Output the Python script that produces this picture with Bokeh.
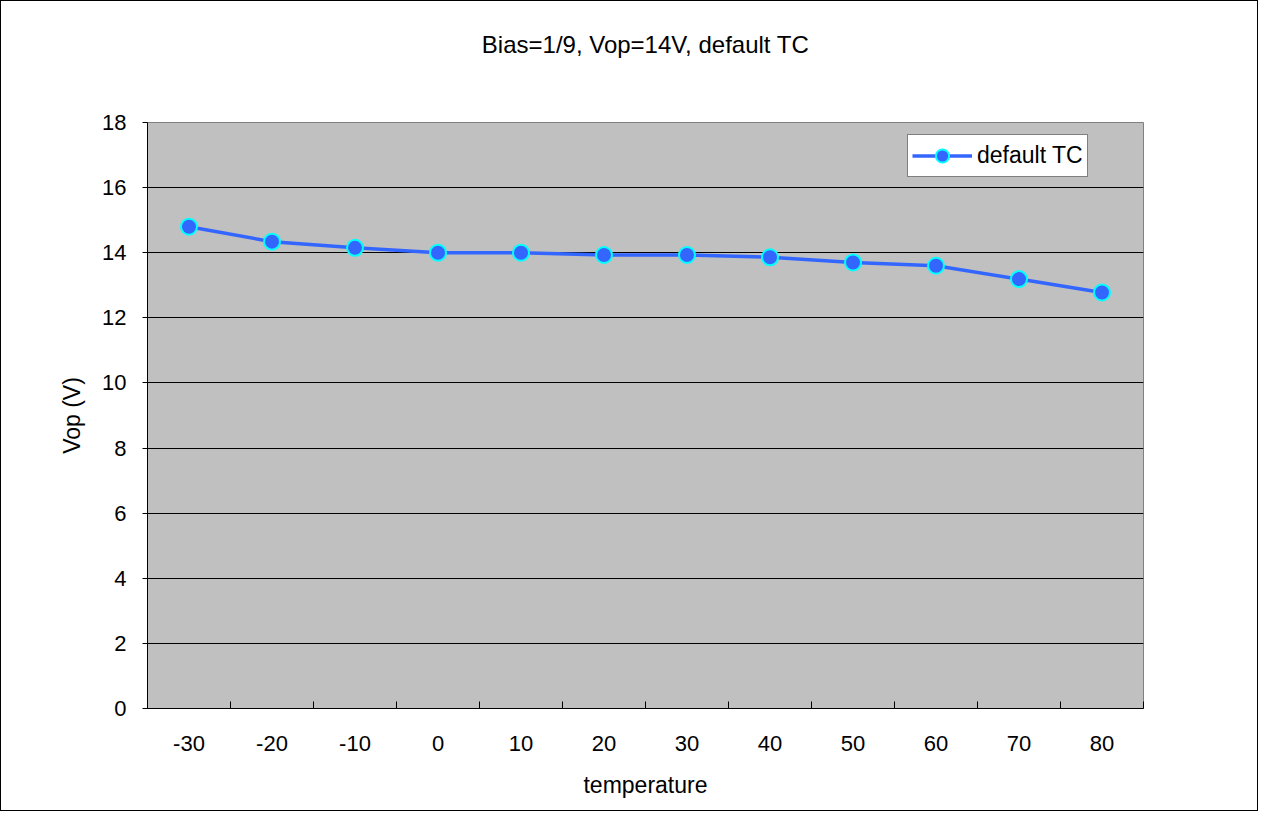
from bokeh.plotting import figure
from bokeh.models import (ColumnDataSource, FixedTicker, Range1d, Legend, LegendItem, Title)
from bokeh.embed import file_html
from bokeh.resources import INLINE

temps = ["-30", "-20", "-10", "0", "10", "20", "30", "40", "50", "60", "70", "80"]
vop = [14.80, 14.34, 14.15, 14.0, 14.0, 13.93, 13.93, 13.86, 13.70, 13.60, 13.19, 12.78]
y_ticks = [0, 2, 4, 6, 8, 10, 12, 14, 16, 18]
title_text = "Bias=1/9, Vop=14V, default TC"
series_name = "default TC"

FONT = "Liberation Sans"
TICK_FS = "22px"
TXT_FS = "23px"
idx = list(range(len(temps)))
src = ColumnDataSource(dict(x=idx, y=vop))

W, H = 1258, 811
BL, BT, BR, BB = 146, 121, 116, 104
FW, FH = W - BL - BR, H - BT - BB

p = figure(width=W, height=H, output_backend="svg", toolbar_location=None,
           x_range=Range1d(-0.5, len(temps) - 0.5), y_range=Range1d(0, 18),
           min_border_left=BL, min_border_right=BR, min_border_top=BT, min_border_bottom=BB)
p.styles = {"border": "1px solid #000000"}

p.background_fill_color = "#C0C0C0"
p.border_fill_color = "white"
p.outline_line_color = "#808080"
p.outline_line_width = 1

# spacer (nearest the frame), then the visible title above it
spacer = Title(text=" ", text_font=FONT, text_font_size="10px", standoff=47)
p.add_layout(spacer, "above")
main_title = Title(text=title_text, text_font=FONT, text_font_size="24px",
                   text_font_style="normal", text_color="black", align="center",
                   offset=-4, standoff=10)
p.add_layout(main_title, "above")

# x axis
xt = FixedTicker(ticks=idx, minor_ticks=[i - 0.5 for i in range(len(temps) + 1)])
p.xaxis.ticker = xt
p.xaxis.major_label_overrides = {i: s for i, s in enumerate(temps)}
p.xaxis.major_tick_line_color = None
p.xaxis.minor_tick_line_color = "black"
p.xaxis.minor_tick_in = 7
p.xaxis.minor_tick_out = 0
p.xaxis.axis_line_color = "black"
p.xaxis.major_label_text_font = FONT
p.xaxis.major_label_text_font_size = TICK_FS
p.xaxis.major_label_text_color = "black"
p.xaxis.major_label_standoff = 21
p.xaxis.axis_label = "temperature"
p.xaxis.axis_label_text_font = FONT
p.xaxis.axis_label_text_font_size = TXT_FS
p.xaxis.axis_label_text_font_style = "normal"
p.xaxis.axis_label_text_color = "black"
p.xaxis.axis_label_standoff = 18

# y axis
p.yaxis.ticker = FixedTicker(ticks=y_ticks)
p.yaxis.major_tick_in = 0
p.yaxis.major_tick_out = 5
p.yaxis.major_tick_line_color = "black"
p.yaxis.minor_tick_line_color = None
p.yaxis.axis_line_color = "black"
p.yaxis.major_label_text_font = FONT
p.yaxis.major_label_text_font_size = TICK_FS
p.yaxis.major_label_text_color = "black"
p.yaxis.major_label_standoff = 16
p.yaxis.axis_label = "Vop (V)"
p.yaxis.axis_label_text_font = FONT
p.yaxis.axis_label_text_font_size = TXT_FS
p.yaxis.axis_label_text_font_style = "normal"
p.yaxis.axis_label_text_color = "black"
p.yaxis.axis_label_standoff = 14

p.xgrid.grid_line_color = None
p.ygrid.grid_line_color = "black"
p.ygrid.grid_line_width = 1

ln = p.line("x", "y", source=src, line_color="#3366FF", line_width=3.5)
sc = p.scatter("x", "y", source=src, size=16, fill_color="#3366FF",
               line_color="#00FFFF", line_width=2)

legend = Legend(items=[LegendItem(label=series_name, renderers=[ln, sc])],
                location=(760, FH - 14 - 41), background_fill_color="white", background_fill_alpha=1,
                border_line_color="black", border_line_width=1,
                label_text_font=FONT, label_text_font_size=TXT_FS, label_text_color="black",
                glyph_width=60, glyph_height=33, label_standoff=5, padding=4, spacing=0,
                margin=0)
p.add_layout(legend, "center")

open("out.html", "w").write(file_html(p, INLINE))
